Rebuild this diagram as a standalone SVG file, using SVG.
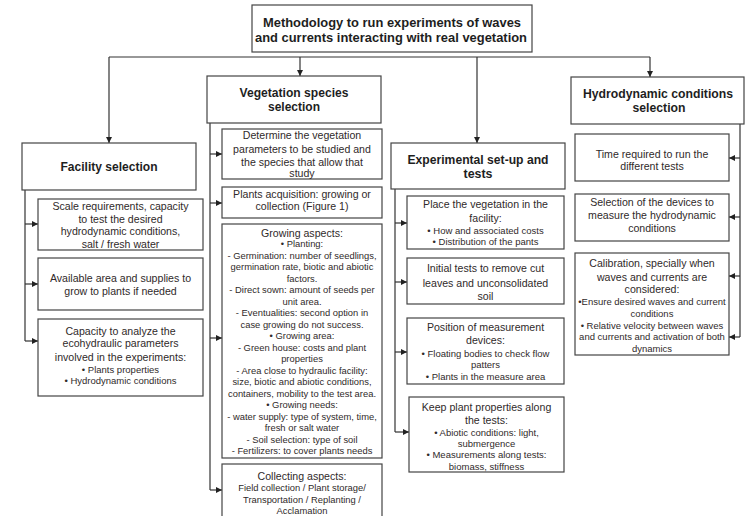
<svg xmlns="http://www.w3.org/2000/svg" width="746" height="516" viewBox="0 0 746 516">
<defs>
<marker id="ah" viewBox="0 0 10 10" refX="10" refY="5" markerWidth="7" markerHeight="6" orient="auto" markerUnits="userSpaceOnUse">
<path d="M0,0 L10,5 L0,10 z" fill="#222"/>
</marker>
</defs>
<style>
.box{fill:#fff;stroke:#444;stroke-width:1.2}
.ln{fill:none;stroke:#333;stroke-width:1.2}
.ar{fill:none;stroke:#333;stroke-width:1.2;marker-end:url(#ah)}
text{font-family:"Liberation Sans",Arial,sans-serif;text-anchor:middle;fill:#302a2a}
.h{font-weight:bold;font-size:13px;fill:#1e1e1e}
.t{font-size:10.6px}
.s{font-size:9.4px}
.b{font-size:9.5px}
</style>
<g id="connectors">
<path class="ln" d="M109,57 H650"/>
<path class="ar" d="M109,57 V143"/>
<path class="ar" d="M300,57 V76"/>
<path class="ar" d="M477,57 V143"/>
<path class="ar" d="M650,57 V77"/>
<path class="ln" d="M25,190 V341"/>
<path class="ar" d="M25,224 H38"/>
<path class="ar" d="M25,284 H38"/>
<path class="ar" d="M25,341 H38"/>
<path class="ln" d="M210,123 V490"/>
<path class="ar" d="M210,154 H222"/>
<path class="ar" d="M210,203 H222"/>
<path class="ar" d="M210,338 H222"/>
<path class="ar" d="M210,490 H222"/>
<path class="ln" d="M395,189 V432"/>
<path class="ar" d="M395,223 H407"/>
<path class="ar" d="M395,282 H407"/>
<path class="ar" d="M395,352 H407"/>
<path class="ar" d="M395,432 H409"/>
<path class="ln" d="M740,124 V337"/>
<path class="ar" d="M740,158 H729"/>
<path class="ar" d="M740,217 H729"/>
<path class="ar" d="M740,276 H729"/>
<path class="ar" d="M740,337 H729"/>
</g>
<g id="title">
<rect class="box" x="252" y="5" width="280" height="47" stroke="#333"/>
<text class="h" x="392" y="27" textLength="258" lengthAdjust="spacingAndGlyphs">Methodology to run experiments of waves</text>
<text class="h" x="391" y="42" textLength="272" lengthAdjust="spacingAndGlyphs">and currents interacting with real vegetation</text>
</g>
<g id="facility">
<rect class="box" x="22" y="143" width="174" height="47"/>
<text class="h" x="109" y="171" textLength="97" lengthAdjust="spacingAndGlyphs">Facility selection</text>
</g>
<g id="fac-scale">
<rect class="box" x="38" y="199" width="165" height="51"/>
<text class="t" x="120.5" y="210">Scale requirements, capacity</text>
<text class="t" x="120.5" y="222.5">to test the desired</text>
<text class="t" x="120.5" y="235">hydrodynamic conditions,</text>
<text class="t" x="120.5" y="248">salt / fresh water</text>
</g>
<g id="fac-area">
<rect class="box" x="38" y="258" width="165" height="52"/>
<text class="t" x="120.5" y="282">Available area and supplies to</text>
<text class="t" x="120.5" y="295">grow to plants if needed</text>
</g>
<g id="fac-capacity">
<rect class="box" x="38" y="319" width="165" height="77"/>
<text class="t" x="120.5" y="335">Capacity to analyze the</text>
<text class="t" x="120.5" y="347">ecohydraulic parameters</text>
<text class="t" x="120.5" y="361">involved in the experiments:</text>
<text class="b" x="120.5" y="372.5">• Plants properties</text>
<text class="b" x="120.5" y="384">• Hydrodynamic conditions</text>
</g>
<g id="vegetation">
<rect class="box" x="207" y="76" width="174" height="47"/>
<text class="h" x="294" y="97" textLength="109" lengthAdjust="spacingAndGlyphs">Vegetation species</text>
<text class="h" x="294" y="111" textLength="52" lengthAdjust="spacingAndGlyphs">selection</text>
</g>
<g id="veg-determine">
<rect class="box" x="222" y="129" width="160" height="50"/>
<text class="t" x="302" y="139">Determine the vegetation</text>
<text class="t" x="302" y="152.5">parameters to be studied and</text>
<text class="t" x="302" y="165.5">the species that allow that</text>
<text class="t" x="302" y="177">study</text>
</g>
<g id="veg-acquisition">
<rect class="box" x="222" y="187" width="160" height="31"/>
<text class="t" x="302" y="198">Plants acquisition: growing or</text>
<text class="t" x="302" y="210">collection (Figure 1)</text>
</g>
<g id="veg-growing">
<rect class="box" x="222" y="224" width="160" height="234"/>
<text class="t" x="302" y="237">Growing aspects:</text>
<text class="s" x="302" y="247.3">• Planting:</text>
<text class="s" x="302" y="258.8">- Germination: number of seedlings,</text>
<text class="s" x="302" y="270.3">germination rate, biotic and abiotic</text>
<text class="s" x="302" y="281.8">factors.</text>
<text class="s" x="302" y="293.3">- Direct sown: amount of seeds per</text>
<text class="s" x="302" y="304.8">unit area.</text>
<text class="s" x="302" y="316.3">- Eventualities: second option in</text>
<text class="s" x="302" y="327.8">case growing do not success.</text>
<text class="s" x="302" y="339.3">• Growing area:</text>
<text class="s" x="302" y="350.8">- Green house: costs and plant</text>
<text class="s" x="302" y="362.3">properties</text>
<text class="s" x="302" y="373.8">- Area close to hydraulic facility:</text>
<text class="s" x="302" y="385.3">size, biotic and abiotic conditions,</text>
<text class="s" x="302" y="396.8">containers, mobility to the test area.</text>
<text class="s" x="302" y="408.3">• Growing needs:</text>
<text class="s" x="302" y="419.8">- water supply: type of system, time,</text>
<text class="s" x="302" y="431.3">fresh or salt water</text>
<text class="s" x="302" y="442.8">- Soil selection: type of soil</text>
<text class="s" x="302" y="454.3">- Fertilizers: to cover plants needs</text>
</g>
<g id="veg-collecting">
<rect class="box" x="222" y="464" width="160" height="60"/>
<text class="t" x="302" y="480">Collecting aspects:</text>
<text class="s" x="302" y="491">Field collection / Plant storage/</text>
<text class="s" x="302" y="502.6">Transportation / Replanting /</text>
<text class="s" x="302" y="514">Acclamation</text>
</g>
<g id="experimental">
<rect class="box" x="391" y="143" width="174" height="46"/>
<text class="h" x="478" y="164" textLength="141" lengthAdjust="spacingAndGlyphs">Experimental set-up and</text>
<text class="h" x="478" y="178" textLength="29" lengthAdjust="spacingAndGlyphs">tests</text>
</g>
<g id="exp-place">
<rect class="box" x="407" y="196" width="157" height="53"/>
<text class="t" x="485.5" y="208">Place the vegetation in the</text>
<text class="t" x="485.5" y="222">facility:</text>
<text class="b" x="485.5" y="233.5">• How and associated costs</text>
<text class="b" x="485.5" y="245">• Distribution of the pants</text>
</g>
<g id="exp-initial">
<rect class="box" x="407" y="258" width="157" height="46"/>
<text class="t" x="485.5" y="272">Initial tests to remove cut</text>
<text class="t" x="485.5" y="287">leaves and unconsolidated</text>
<text class="t" x="485.5" y="300">soil</text>
</g>
<g id="exp-position">
<rect class="box" x="407" y="318" width="157" height="66"/>
<text class="t" x="485.5" y="330.5">Position of measurement</text>
<text class="t" x="485.5" y="344">devices:</text>
<text class="b" x="485.5" y="356.5">• Floating bodies to check flow</text>
<text class="b" x="485.5" y="368">patters</text>
<text class="b" x="485.5" y="379.5">• Plants in the measure area</text>
</g>
<g id="exp-keep">
<rect class="box" x="409" y="397" width="155" height="75"/>
<text class="t" x="486.5" y="410.5">Keep plant properties along</text>
<text class="t" x="486.5" y="424">the tests:</text>
<text class="b" x="486.5" y="436">• Abiotic conditions: light,</text>
<text class="b" x="486.5" y="447">submergence</text>
<text class="b" x="486.5" y="458">• Measurements along tests:</text>
<text class="b" x="486.5" y="469.5">biomass, stiffness</text>
</g>
<g id="hydrodynamic">
<rect class="box" x="571" y="77" width="173" height="47"/>
<text class="h" x="658" y="98" textLength="150" lengthAdjust="spacingAndGlyphs">Hydrodynamic conditions</text>
<text class="h" x="659" y="112" textLength="53" lengthAdjust="spacingAndGlyphs">selection</text>
</g>
<g id="hyd-time">
<rect class="box" x="575" y="134" width="154" height="47"/>
<text class="t" x="652" y="158">Time required to run the</text>
<text class="t" x="652" y="170">different tests</text>
</g>
<g id="hyd-devices">
<rect class="box" x="575" y="194" width="154" height="47"/>
<text class="t" x="652" y="205.5">Selection of the devices to</text>
<text class="t" x="652" y="219">measure the hydrodynamic</text>
<text class="t" x="652" y="232">conditions</text>
</g>
<g id="hyd-calibration">
<rect class="box" x="575" y="253" width="154" height="102"/>
<text class="t" x="652" y="267">Calibration, specially when</text>
<text class="t" x="652" y="280.5">waves and currents are</text>
<text class="t" x="652" y="293">considered:</text>
<text class="b" x="652" y="305">•Ensure desired waves and current</text>
<text class="b" x="652" y="316.5">conditions</text>
<text class="b" x="652" y="328.5">• Relative velocity between waves</text>
<text class="b" x="652" y="340">and currents and activation of both</text>
<text class="b" x="652" y="351.5">dynamics</text>
</g>
</svg>
